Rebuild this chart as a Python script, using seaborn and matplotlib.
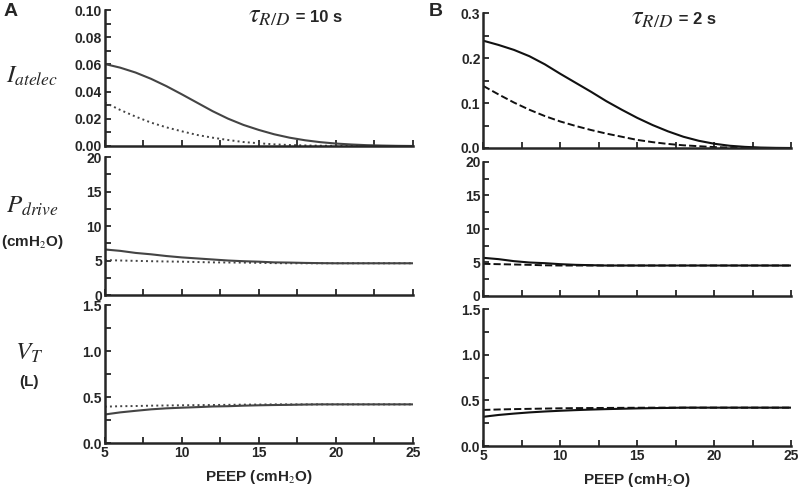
import numpy as np
import pandas as pd
import matplotlib
matplotlib.use("Agg")
import matplotlib.pyplot as plt
import seaborn as sns
from matplotlib.ticker import MultipleLocator

sns.set_style("ticks")
plt.rcParams['font.family'] = ['Liberation Sans', 'DejaVu Sans']
plt.rcParams['mathtext.fontset'] = 'stix'

# PEEP values (cmH2O), read at every 1 cmH2O
peep = list(range(5, 26))

# Panel A, tau = 10 s
a_iatelec_solid = [0.0603, 0.0576, 0.0540, 0.0494, 0.0440, 0.0380, 0.0318, 0.0256, 0.0201, 0.0155,
                   0.0118, 0.0086, 0.0061, 0.0042, 0.0028, 0.0018, 0.0011, 0.0006, 0.0003, 0.0001, 0.0]
a_iatelec_dot = [0.0320, 0.0265, 0.0216, 0.0172, 0.0137, 0.0108, 0.0081, 0.0061, 0.0044, 0.0029,
                 0.0020, 0.0012, 0.0007, 0.0004, 0.0002, 0.0001, 0.0, 0.0, 0.0, 0.0, 0.0]
a_pdrive_solid = [6.6, 6.4, 6.1, 5.9, 5.65, 5.45, 5.3, 5.15, 5.0, 4.9,
                  4.83, 4.73, 4.7, 4.65, 4.62, 4.6, 4.6, 4.6, 4.6, 4.6, 4.6]
a_pdrive_dot = [5.07, 5.0, 4.95, 4.9, 4.86, 4.83, 4.78, 4.73, 4.71, 4.7,
                4.66, 4.62, 4.6, 4.6, 4.6, 4.6, 4.6, 4.6, 4.6, 4.6, 4.6]
a_vt_solid = [0.31, 0.333, 0.35, 0.366, 0.377, 0.384, 0.39, 0.397, 0.40, 0.406,
              0.41, 0.413, 0.415, 0.418, 0.42, 0.42, 0.42, 0.42, 0.42, 0.42, 0.42]
a_vt_dot = [0.395, 0.40, 0.402, 0.406, 0.408, 0.41, 0.412, 0.413, 0.415, 0.417,
            0.418, 0.42, 0.42, 0.42, 0.42, 0.42, 0.42, 0.42, 0.42, 0.42, 0.42]

# Panel B, tau = 2 s
b_iatelec_solid = [0.2385, 0.229, 0.218, 0.204, 0.186, 0.165, 0.145, 0.125, 0.104, 0.085,
                   0.067, 0.051, 0.037, 0.025, 0.016, 0.0095, 0.005, 0.0025, 0.001, 0.0003, 0.0]
b_iatelec_dash = [0.138, 0.119, 0.101, 0.085, 0.071, 0.059, 0.049, 0.040, 0.032, 0.025,
                  0.018, 0.013, 0.009, 0.006, 0.004, 0.002, 0.001, 0.0005, 0.0, 0.0, 0.0]
b_pdrive_solid = [5.7, 5.5, 5.2, 5.0, 4.9, 4.75, 4.65, 4.6, 4.55, 4.55,
                  4.55, 4.55, 4.55, 4.55, 4.55, 4.55, 4.55, 4.55, 4.55, 4.55, 4.55]
b_pdrive_dash = [4.8, 4.75, 4.7, 4.65, 4.58, 4.55, 4.55, 4.55, 4.55, 4.55,
                 4.55, 4.55, 4.55, 4.55, 4.55, 4.55, 4.55, 4.55, 4.55, 4.55, 4.55]
b_vt_solid = [0.32, 0.34, 0.355, 0.368, 0.378, 0.386, 0.393, 0.399, 0.404, 0.408,
              0.412, 0.415, 0.417, 0.42, 0.42, 0.42, 0.42, 0.42, 0.42, 0.42, 0.42]
b_vt_dash = [0.395, 0.40, 0.404, 0.407, 0.41, 0.413, 0.415, 0.416, 0.417, 0.418,
             0.419, 0.42, 0.42, 0.42, 0.42, 0.42, 0.42, 0.42, 0.42, 0.42, 0.42]

fig = plt.figure(figsize=(8, 4.93), dpi=100)

left_x, right_x, w = 0.131, 0.604, 0.385
rows_left = [(0.7039, 0.2758), (0.4016, 0.2799), (0.1014, 0.2799)]
rows_right = [(0.6998, 0.2738), (0.3996, 0.2718), (0.0953, 0.2779)]

ylims = [(0, 0.10), (0, 20), (0, 1.5)]
ylims_b = [(0, 0.3), (0, 20), (0, 1.5)]
ymajor = [0.02, 5, 0.5]
ymajor_b = [0.1, 5, 0.5]
yfmt = ["{:.2f}", "{:.0f}", "{:.1f}"]
yfmt_b = ["{:.1f}", "{:.0f}", "{:.1f}"]

data_a = [(a_iatelec_solid, a_iatelec_dot), (a_pdrive_solid, a_pdrive_dot), (a_vt_solid, a_vt_dot)]
data_b = [(b_iatelec_solid, b_iatelec_dash), (b_pdrive_solid, b_pdrive_dash), (b_vt_solid, b_vt_dash)]


def style_axis(ax, ylim, major, fmt, bottom):
    ax.set_xlim(5, 25)
    ax.set_ylim(*ylim)
    ax.xaxis.set_major_locator(MultipleLocator(5))
    ax.xaxis.set_minor_locator(MultipleLocator(2.5))
    ax.yaxis.set_major_locator(MultipleLocator(major))
    ax.yaxis.set_minor_locator(MultipleLocator(major / 2))
    ax.tick_params(which='both', direction='in', length=4, width=1.3, labelsize=10)
    ax.tick_params(which='major', pad=2)
    ticks = ax.get_yticks()
    ticks = [t for t in ticks if ylim[0] - 1e-9 <= t <= ylim[1] + 1e-9]
    ax.set_yticks(ticks)
    ax.set_yticklabels([fmt.format(t) for t in ticks], fontweight='bold')
    if bottom:
        ax.set_xticks([5, 10, 15, 20, 25])
        ax.set_xticklabels(["5", "10", "15", "20", "25"], fontweight='bold')
        ax.set_xlabel("PEEP (cmH$_2$O)", fontsize=11, fontweight='bold', labelpad=6)
    else:
        ax.set_xticklabels([])
        ax.set_xlabel("")
    ax.set_ylabel("")
    sns.despine(ax=ax)
    for s in ['left', 'bottom']:
        ax.spines[s].set_linewidth(1.8)
    ax.set_facecolor('none')


for col, (x0, rows, data, ylm, majs, fmts, ls2, color) in enumerate([
        (left_x, rows_left, data_a, ylims, ymajor, yfmt, ':', '#444444'),
        (right_x, rows_right, data_b, ylims_b, ymajor_b, yfmt_b, '--', '#111111')]):
    for r in range(3):
        ax = fig.add_axes([x0, rows[r][0], w, rows[r][1]])
        solid, other = data[r]
        df = pd.DataFrame({"peep": peep, "solid": solid, "other": other})
        sns.lineplot(data=df, x="peep", y="solid", ax=ax, color=color, lw=1.5)
        sns.lineplot(data=df, x="peep", y="other", ax=ax, color=color, lw=1.4, linestyle=ls2)
        style_axis(ax, ylm[r], majs[r], fmts[r], r == 2)

# row labels
fig.text(0.04, 0.832, r"$I_{atelec}$", fontsize=18, ha='center', va='baseline')
fig.text(0.04, 0.568, r"$P_{drive}$", fontsize=18, ha='center', va='baseline')
fig.text(0.04, 0.509, "(cmH$_2$O)", fontsize=11, ha='center', va='center', fontweight='bold')
fig.text(0.037, 0.27, r"$V_T$", fontsize=18, ha='center', va='baseline')
fig.text(0.036, 0.225, "(L)", fontsize=11, ha='center', va='center', fontweight='bold')

# panel letters
fig.text(0.004, 0.976, "A", fontsize=14, fontweight='bold', ha='left', va='center')
fig.text(0.536, 0.976, "B", fontsize=14, fontweight='bold', ha='left', va='center')

# titles
fig.text(0.363, 0.955, r"$\tau_{R/D}$", fontsize=19, ha='right', va='baseline')
fig.text(0.364, 0.955, " = 10 s", fontsize=12, fontweight='bold', ha='left', va='baseline')
fig.text(0.842, 0.951, r"$\tau_{R/D}$", fontsize=19, ha='right', va='baseline')
fig.text(0.843, 0.951, " = 2 s", fontsize=12, fontweight='bold', ha='left', va='baseline')

fig.savefig("out.png", dpi=100)
